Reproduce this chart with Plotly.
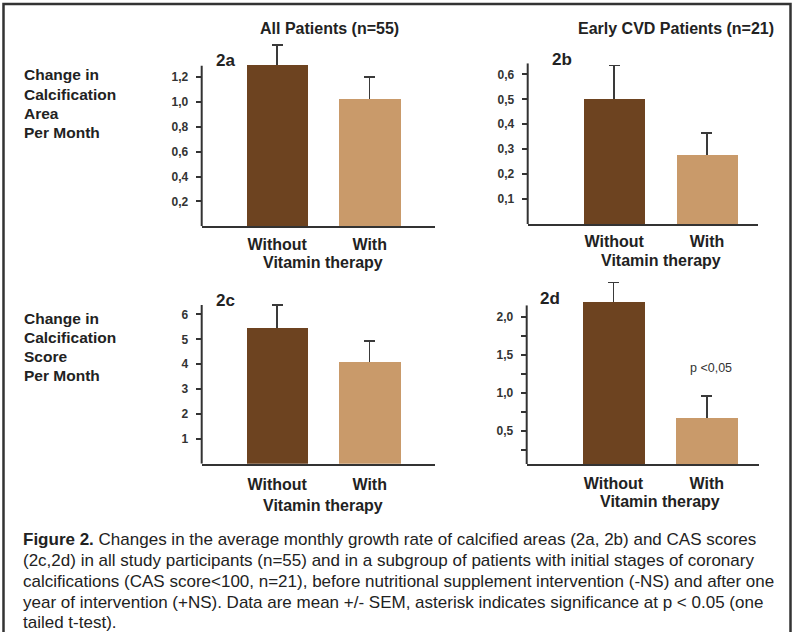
import plotly.graph_objects as go

W, H = 793, 632

def px(x):
    return x / W

def py(y):
    return 1 - y / H

# ---------------- data ----------------
categories = ["Without", "With"]

area_all = [1.30, 1.02]
area_all_sem = [0.16, 0.18]

area_early = [0.50, 0.275]
area_early_sem = [0.135, 0.09]

score_all = [5.47, 4.10]
score_all_sem = [0.91, 0.84]

score_early = [2.19, 0.675]
score_early_sem = [0.26, 0.285]

ticks_a = [0.2, 0.4, 0.6, 0.8, 1.0, 1.2]
ticklabels_a = ["0,2", "0,4", "0,6", "0,8", "1,0", "1,2"]
ticks_b = [0.1, 0.2, 0.3, 0.4, 0.5, 0.6]
ticklabels_b = ["0,1", "0,2", "0,3", "0,4", "0,5", "0,6"]
ticks_c = [1, 2, 3, 4, 5, 6]
ticklabels_c = ["1", "2", "3", "4", "5", "6"]
ticks_d = [0.25, 0.5, 0.75, 1.0, 1.25, 1.5, 1.75, 2.0]
ticklabels_d = ["", "0,5", "", "1,0", "", "1,5", "", "2,0"]

bar_colors = ["#6d4320", "#c99a6a"]
AX = "#333333"
FONT = "Liberation Sans, Arial, sans-serif"

panels = [
    dict(v=area_all, e=area_all_sem, tv=ticks_a, tt=ticklabels_a,
         xd=(201.7, 435), yd=(226.3, 40), xr=(-0.816, 1.706), yr=(0, 1.498), top=1.29,
         lab="2a", lp=(225, 60.7), vy=262.3, so=2),
    dict(v=area_early, e=area_early_sem, tv=ticks_b, tt=ticklabels_b,
         xd=(527.7, 758.3), yd=(224.0, 40), xr=(-0.932, 1.553), yr=(0, 0.738), top=0.644,
         lab="2b", lp=(561.7, 59.3), vy=260.0, so=2),
    dict(v=score_all, e=score_all_sem, tv=ticks_c, tt=ticklabels_c,
         xd=(201.7, 435), yd=(463.8, 290), xr=(-0.816, 1.706), yr=(0, 6.98), top=6.38,
         lab="2c", lp=(225, 300), vy=505.0, so=5),
    dict(v=score_early, e=score_early_sem, tv=ticks_d, tt=ticklabels_d,
         xd=(526.7, 759.3), yd=(464.0, 275), xr=(-0.931, 1.564), yr=(0.066, 2.55), top=2.15,
         lab="2d", lp=(550, 298.5), vy=501.7, so=4),
]

fig = go.Figure()
annotations = []
shapes = []

for i, p in enumerate(panels):
    n = "" if i == 0 else str(i + 1)
    xa, ya = "x" + n, "y" + n
    # hidden bars carrying the one-sided error bars (drawn beneath the visible bars)
    fig.add_trace(go.Bar(
        x=categories, y=p["v"], xaxis=xa, yaxis=ya, width=0.66,
        marker=dict(color="rgba(0,0,0,0)", line=dict(width=0)),
        error_y=dict(type="data", symmetric=False, array=p["e"],
                     arrayminus=[v * 0.05 for v in p["e"]],
                     color="#3a3a3a", thickness=1.6, width=5.5),
        showlegend=False, hoverinfo="skip"))
    fig.add_trace(go.Bar(
        x=categories, y=p["v"], xaxis=xa, yaxis=ya, width=0.66,
        marker=dict(color=bar_colors, line=dict(width=0)),
        showlegend=False))
    xkey = "xaxis" + n
    ykey = "yaxis" + n
    fig.layout[xkey] = dict(
        domain=[px(p["xd"][0]), px(p["xd"][1])], anchor=ya,
        type="category", range=list(p["xr"]),
        showline=True, linewidth=2, linecolor=AX, ticks="",
        showgrid=False, zeroline=False,
        tickfont=dict(family=FONT, size=16, color="#222222", weight="bold"),
        ticklabelstandoff=p["so"])
    fig.layout[ykey] = dict(
        domain=[py(p["yd"][0]), py(p["yd"][1])], anchor=xa,
        range=list(p["yr"]), showline=False, showgrid=False, zeroline=False,
        tickmode="array", tickvals=p["tv"], ticktext=p["tt"],
        ticks="outside", ticklen=5, tickwidth=1.5, tickcolor=AX,
        tickfont=dict(family=FONT, size=12, color="#333333", weight="bold"),
        ticklabelstandoff=5)
    shapes.append(dict(type="line", xref=xa + " domain", yref=ya,
                       x0=0, x1=0, y0=p["yr"][0], y1=p["top"],
                       line=dict(color=AX, width=2)))
    annotations.append(dict(text=p["lab"], xref="paper", yref="paper",
                            x=px(p["lp"][0]), y=py(p["lp"][1]),
                            xanchor="center", yanchor="middle", showarrow=False,
                            font=dict(family=FONT, size=17, color="#222222", weight="bold")))
    annotations.append(dict(text="Vitamin therapy", xref=xa, yref="paper",
                            x=0.5, y=py(p["vy"]),
                            xanchor="center", yanchor="middle", showarrow=False,
                            font=dict(family=FONT, size=16, color="#222222", weight="bold")))

# column titles
annotations.append(dict(text="All Patients (n=55)", xref="paper", yref="paper",
                        x=px(329.5), y=py(28.3), xanchor="center", yanchor="middle",
                        showarrow=False,
                        font=dict(family=FONT, size=16, color="#222222", weight="bold")))
annotations.append(dict(text="Early CVD Patients (n=21)", xref="paper", yref="paper",
                        x=px(676), y=py(28.3), xanchor="center", yanchor="middle",
                        showarrow=False,
                        font=dict(family=FONT, size=16, color="#222222", weight="bold")))

# row labels
row1 = ["Change in", "Calcification", "Area", "Per Month"]
row1_y = [75, 94, 113, 132]
row2 = ["Change in", "Calcification", "Score", "Per Month"]
row2_y = [318, 337, 356, 375]
for txt, yy in list(zip(row1, row1_y)) + list(zip(row2, row2_y)):
    annotations.append(dict(text=txt, xref="paper", yref="paper",
                            x=px(21.5), y=py(yy), xanchor="left", yanchor="middle",
                            showarrow=False,
                            font=dict(family=FONT, size=15.5, color="#222222", weight="bold")))

# significance note
annotations.append(dict(text="p <0,05", xref="x4", yref="y4", x="With", y=1.33,
                        xanchor="center", yanchor="middle", xshift=4, showarrow=False,
                        font=dict(family=FONT, size=12.5, color="#333333")))

# caption
caption_lines = [
    "<b>Figure 2.</b> Changes in the average monthly growth rate of calcified areas (2a, 2b) and CAS scores",
    "(2c,2d) in all study participants (n=55) and in a subgroup of patients with initial stages of coronary",
    "calcifications (CAS score&lt;100, n=21), before nutritional supplement intervention (-NS) and after one",
    "year of intervention (+NS). Data are mean +/- SEM, asterisk indicates significance at p &lt; 0.05 (one",
    "tailed t-test).",
]
caption_y = [539.5, 560.5, 581.5, 602.5, 622]
for txt, yy in zip(caption_lines, caption_y):
    annotations.append(dict(text=txt, xref="paper", yref="paper",
                            x=px(20.5), y=py(yy), xanchor="left", yanchor="middle",
                            showarrow=False,
                            font=dict(family=FONT, size=17, color="#222222")))

# outer frame
shapes.append(dict(type="rect", xref="paper", yref="paper",
                   x0=px(3.5), x1=px(790.5), y0=-0.05, y1=py(4),
                   line=dict(color="#333333", width=2.5), fillcolor="rgba(0,0,0,0)"))

fig.update_layout(
    width=W, height=H, margin=dict(l=0, r=0, t=0, b=0),
    paper_bgcolor="white", plot_bgcolor="white",
    barmode="overlay", bargap=0,
    annotations=annotations, shapes=shapes,
    font=dict(family=FONT),
)

fig.write_html("out.html", config={"displayModeBar": False},
               post_script="document.body.style.margin='0';document.body.style.overflow='hidden';")
